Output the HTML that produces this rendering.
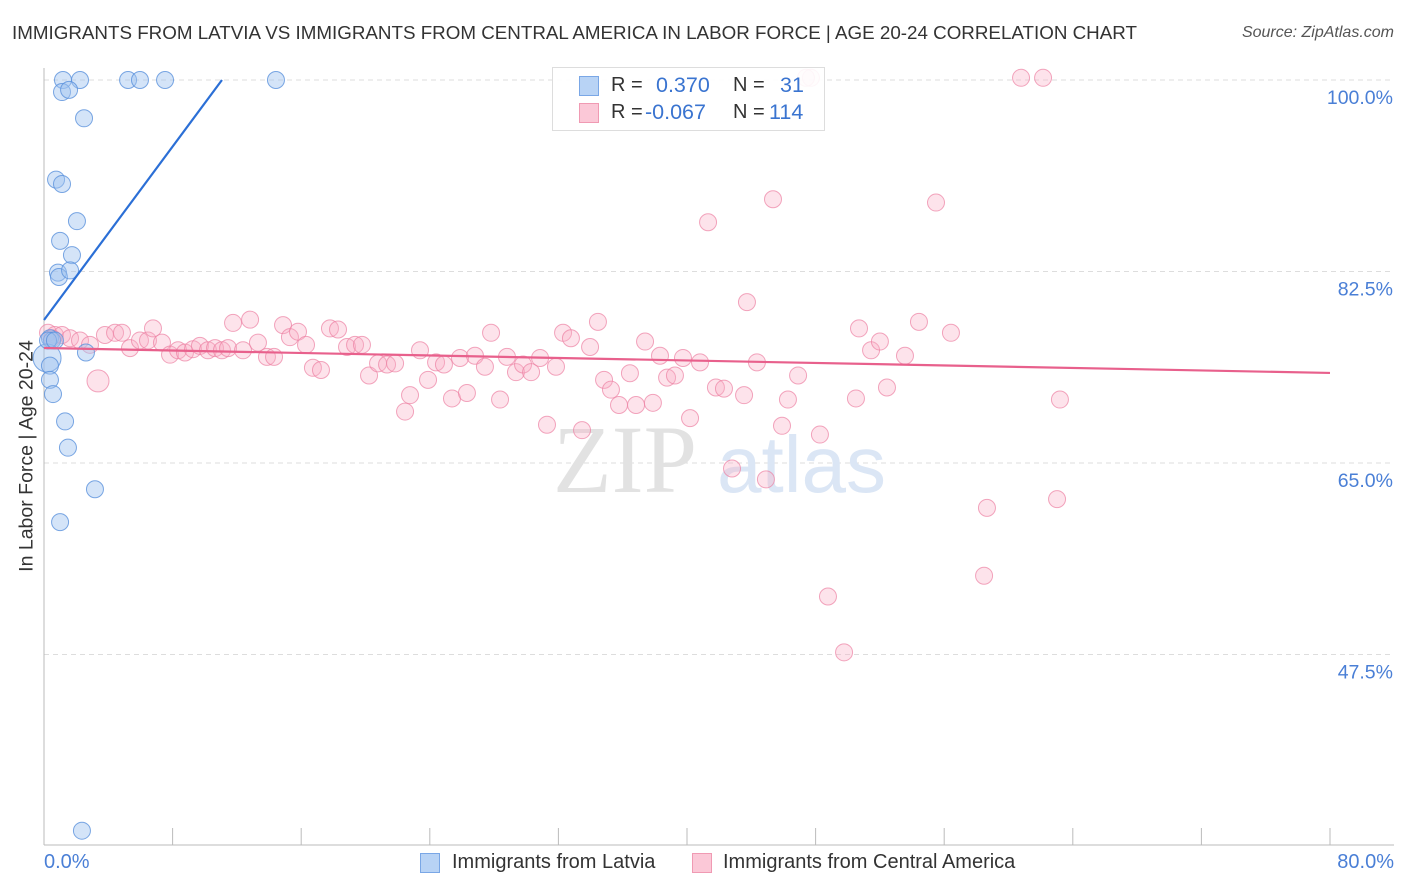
<!DOCTYPE html>
<html><head><meta charset="utf-8"><style>
body{margin:0;background:#fff;font-family:"Liberation Sans",sans-serif;}
#wrap{position:relative;width:1406px;height:892px;overflow:hidden;}
.t{position:absolute;white-space:nowrap;}
</style></head><body>
<div id="wrap">
<div class="t" style="left:12px;top:22px;font-size:18.8px;color:#333;">IMMIGRANTS FROM LATVIA VS IMMIGRANTS FROM CENTRAL AMERICA IN LABOR FORCE | AGE 20-24 CORRELATION CHART</div>
<div class="t" style="right:12px;top:24px;font-size:16px;color:#555;font-style:italic;">Source: ZipAtlas.com</div>
<div class="t" style="left:27px;top:456px;font-size:19.5px;color:#333;transform:translate(-50%,-50%) rotate(-90deg);">In Labor Force | Age 20-24</div>
<svg id="svg" width="1406" height="892" style="position:absolute;left:0;top:0"></svg>
<div class="t" style="left:44px;top:851px;font-size:20px;color:#4a7fd6;">0.0%</div>
<div class="t" style="right:12px;top:851px;font-size:20px;color:#4a7fd6;">80.0%</div>
<div style="position:absolute;left:420px;top:853px;width:20px;height:20px;background:#b8d3f5;border:1px solid #7aa7e6;box-sizing:border-box;"></div>
<div class="t" style="left:452px;top:851px;font-size:20px;color:#333;">Immigrants from Latvia</div>
<div style="position:absolute;left:692px;top:853px;width:20px;height:20px;background:#fbc8d7;border:1px solid #f09ab3;box-sizing:border-box;"></div>
<div class="t" style="left:723px;top:851px;font-size:20px;color:#333;">Immigrants from Central America</div>
<div style="position:absolute;left:552px;top:67px;width:271px;height:62px;border:1px solid #ddd;background:rgba(255,255,255,0.9);">
 <div style="position:absolute;left:26px;top:8px;width:20px;height:20px;background:#b8d3f5;border:1px solid #7aa7e6;box-sizing:border-box;"></div>
 <div class="t" style="left:58px;top:6px;font-size:20px;color:#333;">R =</div>
 <div class="t" style="left:103px;top:5px;font-size:21.5px;color:#3a74d0;">0.370</div>
 <div class="t" style="left:180px;top:6px;font-size:20px;color:#333;">N =</div>
 <div class="t" style="left:227px;top:5px;font-size:21.5px;color:#3a74d0;">31</div>
 <div style="position:absolute;left:26px;top:35px;width:20px;height:20px;background:#fbc8d7;border:1px solid #f09ab3;box-sizing:border-box;"></div>
 <div class="t" style="left:58px;top:33px;font-size:20px;color:#333;">R =</div>
 <div class="t" style="left:92px;top:32px;font-size:21.5px;color:#3a74d0;">-0.067</div>
 <div class="t" style="left:180px;top:33px;font-size:20px;color:#333;">N =</div>
 <div class="t" style="left:216px;top:32px;font-size:21.5px;color:#3a74d0;">114</div>
</div>
</div>
<script>
const yTicks=[100,82.5,65,47.5];
const yTickLabels=["100.0%","82.5%","65.0%","47.5%"];
const latviaX=[1.18,2.24,5.23,5.97,7.53,14.43,1.12,1.56,2.49,0.75,1.12,2.05,1.0,1.74,0.87,0.93,1.62,2.61,0.37,0.5,0.19,0.37,0.37,0.56,1.31,1.49,3.17,1.0,2.36,0.25,0.68];
const latviaY=[100,100,100,100,100,100,98.9,99.1,96.5,90.9,90.5,87.1,85.3,84.0,82.4,82.0,82.6,75.1,76.4,76.2,74.6,73.9,72.6,71.3,68.8,66.4,62.6,59.6,31.4,76.2,76.2];
const caX=[0.25,0.68,1.12,1.62,2.24,2.86,3.36,3.79,4.42,4.85,5.35,5.97,6.47,6.78,7.34,7.84,8.34,8.77,9.27,9.70,10.2,10.64,11.07,11.45,11.76,12.38,12.82,13.31,13.87,14.31,14.87,15.3,15.8,16.3,16.73,17.23,17.79,18.29,18.85,19.35,19.78,20.22,20.78,21.34,21.84,22.46,22.77,23.39,23.89,24.39,24.88,25.38,25.88,26.31,26.81,27.43,27.81,28.37,28.8,29.36,29.8,30.3,30.86,31.29,31.85,32.29,32.78,33.47,33.97,34.46,34.84,35.27,35.77,36.45,36.83,37.39,37.88,38.32,38.76,39.25,39.75,40.19,40.81,41.31,41.8,42.3,42.8,43.55,43.73,44.35,44.91,45.35,45.91,46.28,46.91,47.71,47.4,48.27,48.77,49.77,50.51,50.7,51.45,52.0,52.44,53.56,54.43,55.49,56.42,58.48,58.66,60.78,62.15,63.02,63.2,0.5];
const caY=[76.9,76.7,76.7,76.4,76.2,75.8,72.5,76.7,76.9,76.9,75.5,76.2,76.2,77.3,76.0,74.9,75.3,75.1,75.4,75.7,75.3,75.5,75.3,75.5,77.8,75.3,78.1,76.0,74.7,74.7,77.6,76.5,77.0,75.8,73.7,73.5,77.3,77.2,75.6,75.8,75.8,73.0,74.1,74.0,74.1,69.7,71.2,75.3,72.6,74.2,74.0,70.9,74.6,71.4,74.8,73.8,76.9,70.8,74.7,73.3,74.0,73.3,74.6,68.5,73.8,76.9,76.4,68.0,75.6,77.9,72.6,71.7,70.3,73.2,70.3,76.1,70.5,74.8,72.8,73.0,74.6,69.1,74.2,87.0,71.9,71.8,64.5,71.2,79.7,74.2,63.5,89.1,68.4,70.8,73.0,100.2,100.2,67.6,52.8,47.7,70.9,77.3,75.3,76.1,71.9,74.8,77.9,88.8,76.9,54.7,60.9,100.2,100.2,61.7,70.8,76.4];
const latviaTrend=[[0,78.07],[11.07,100]];
const caTrend=[[0,75.51],[80,73.23]];
const X0=44,X1=1330,Y100=80,PPU=10.943;
const xs=v=>X0+(v/80)*(X1-X0);
const ys=v=>Y100+(100-v)*PPU;
const svg=document.getElementById('svg');
const NS='http://www.w3.org/2000/svg';
function mk(tag,attrs){const e=document.createElementNS(NS,tag);for(const k in attrs)e.setAttribute(k,attrs[k]);svg.appendChild(e);return e;}
yTicks.forEach((t,i)=>{
 const g=mk('line',{x1:44,x2:1394,y1:ys(t),y2:ys(t),stroke:'#ddd','stroke-dasharray':'5,4'});
 
 
 const tx=mk('text',{x:1393,y:ys(t)+24,'text-anchor':'end','font-size':'19.5',fill:'#4a7fd6','font-family':'Liberation Sans, sans-serif'});
 tx.textContent=yTickLabels[i];
 
 
});
const w1=mk('text',{x:553,y:492,'font-size':'96','font-family':'Liberation Serif, serif',fill:'#e2e2e2'});w1.textContent='ZIP';


const w2=mk('text',{x:717,y:492,'font-size':'80','font-family':'Liberation Sans, sans-serif',fill:'#dbe6f5'});w2.textContent='atlas';


const ax=mk('line',{x1:44,x2:44,y1:68,y2:845,stroke:'#bbb'});


const bx=mk('line',{x1:44,x2:1394,y1:845,y2:845,stroke:'#bbb'});


for(let i=1;i<=10;i++){const tk=mk('line',{x1:xs(i*8),x2:xs(i*8),y1:828,y2:845,stroke:'#bbb'});
 
 }
caX.forEach((x,i)=>{const c=mk('circle',{cx:xs(x),cy:ys(caY[i]),r:(i===6?11:8.5),fill:'rgba(248,176,198,0.35)',stroke:'rgba(236,128,162,0.7)','stroke-width':1});
 
 });
latviaX.forEach((x,i)=>{const c=mk('circle',{cx:xs(x),cy:ys(latviaY[i]),r:(i===20?14:8.5),fill:'rgba(160,196,240,0.45)',stroke:'rgba(90,145,220,0.8)','stroke-width':1});
 
 });
const l1=mk('line',{x1:xs(latviaTrend[0][0]),y1:ys(latviaTrend[0][1]),x2:xs(latviaTrend[1][0]),y2:ys(latviaTrend[1][1]),stroke:'#2b6fd6','stroke-width':2.2});


const l2=mk('line',{x1:xs(caTrend[0][0]),y1:ys(caTrend[0][1]),x2:xs(caTrend[1][0]),y2:ys(caTrend[1][1]),stroke:'#e8608c','stroke-width':2.2});


</script>
</body></html>
